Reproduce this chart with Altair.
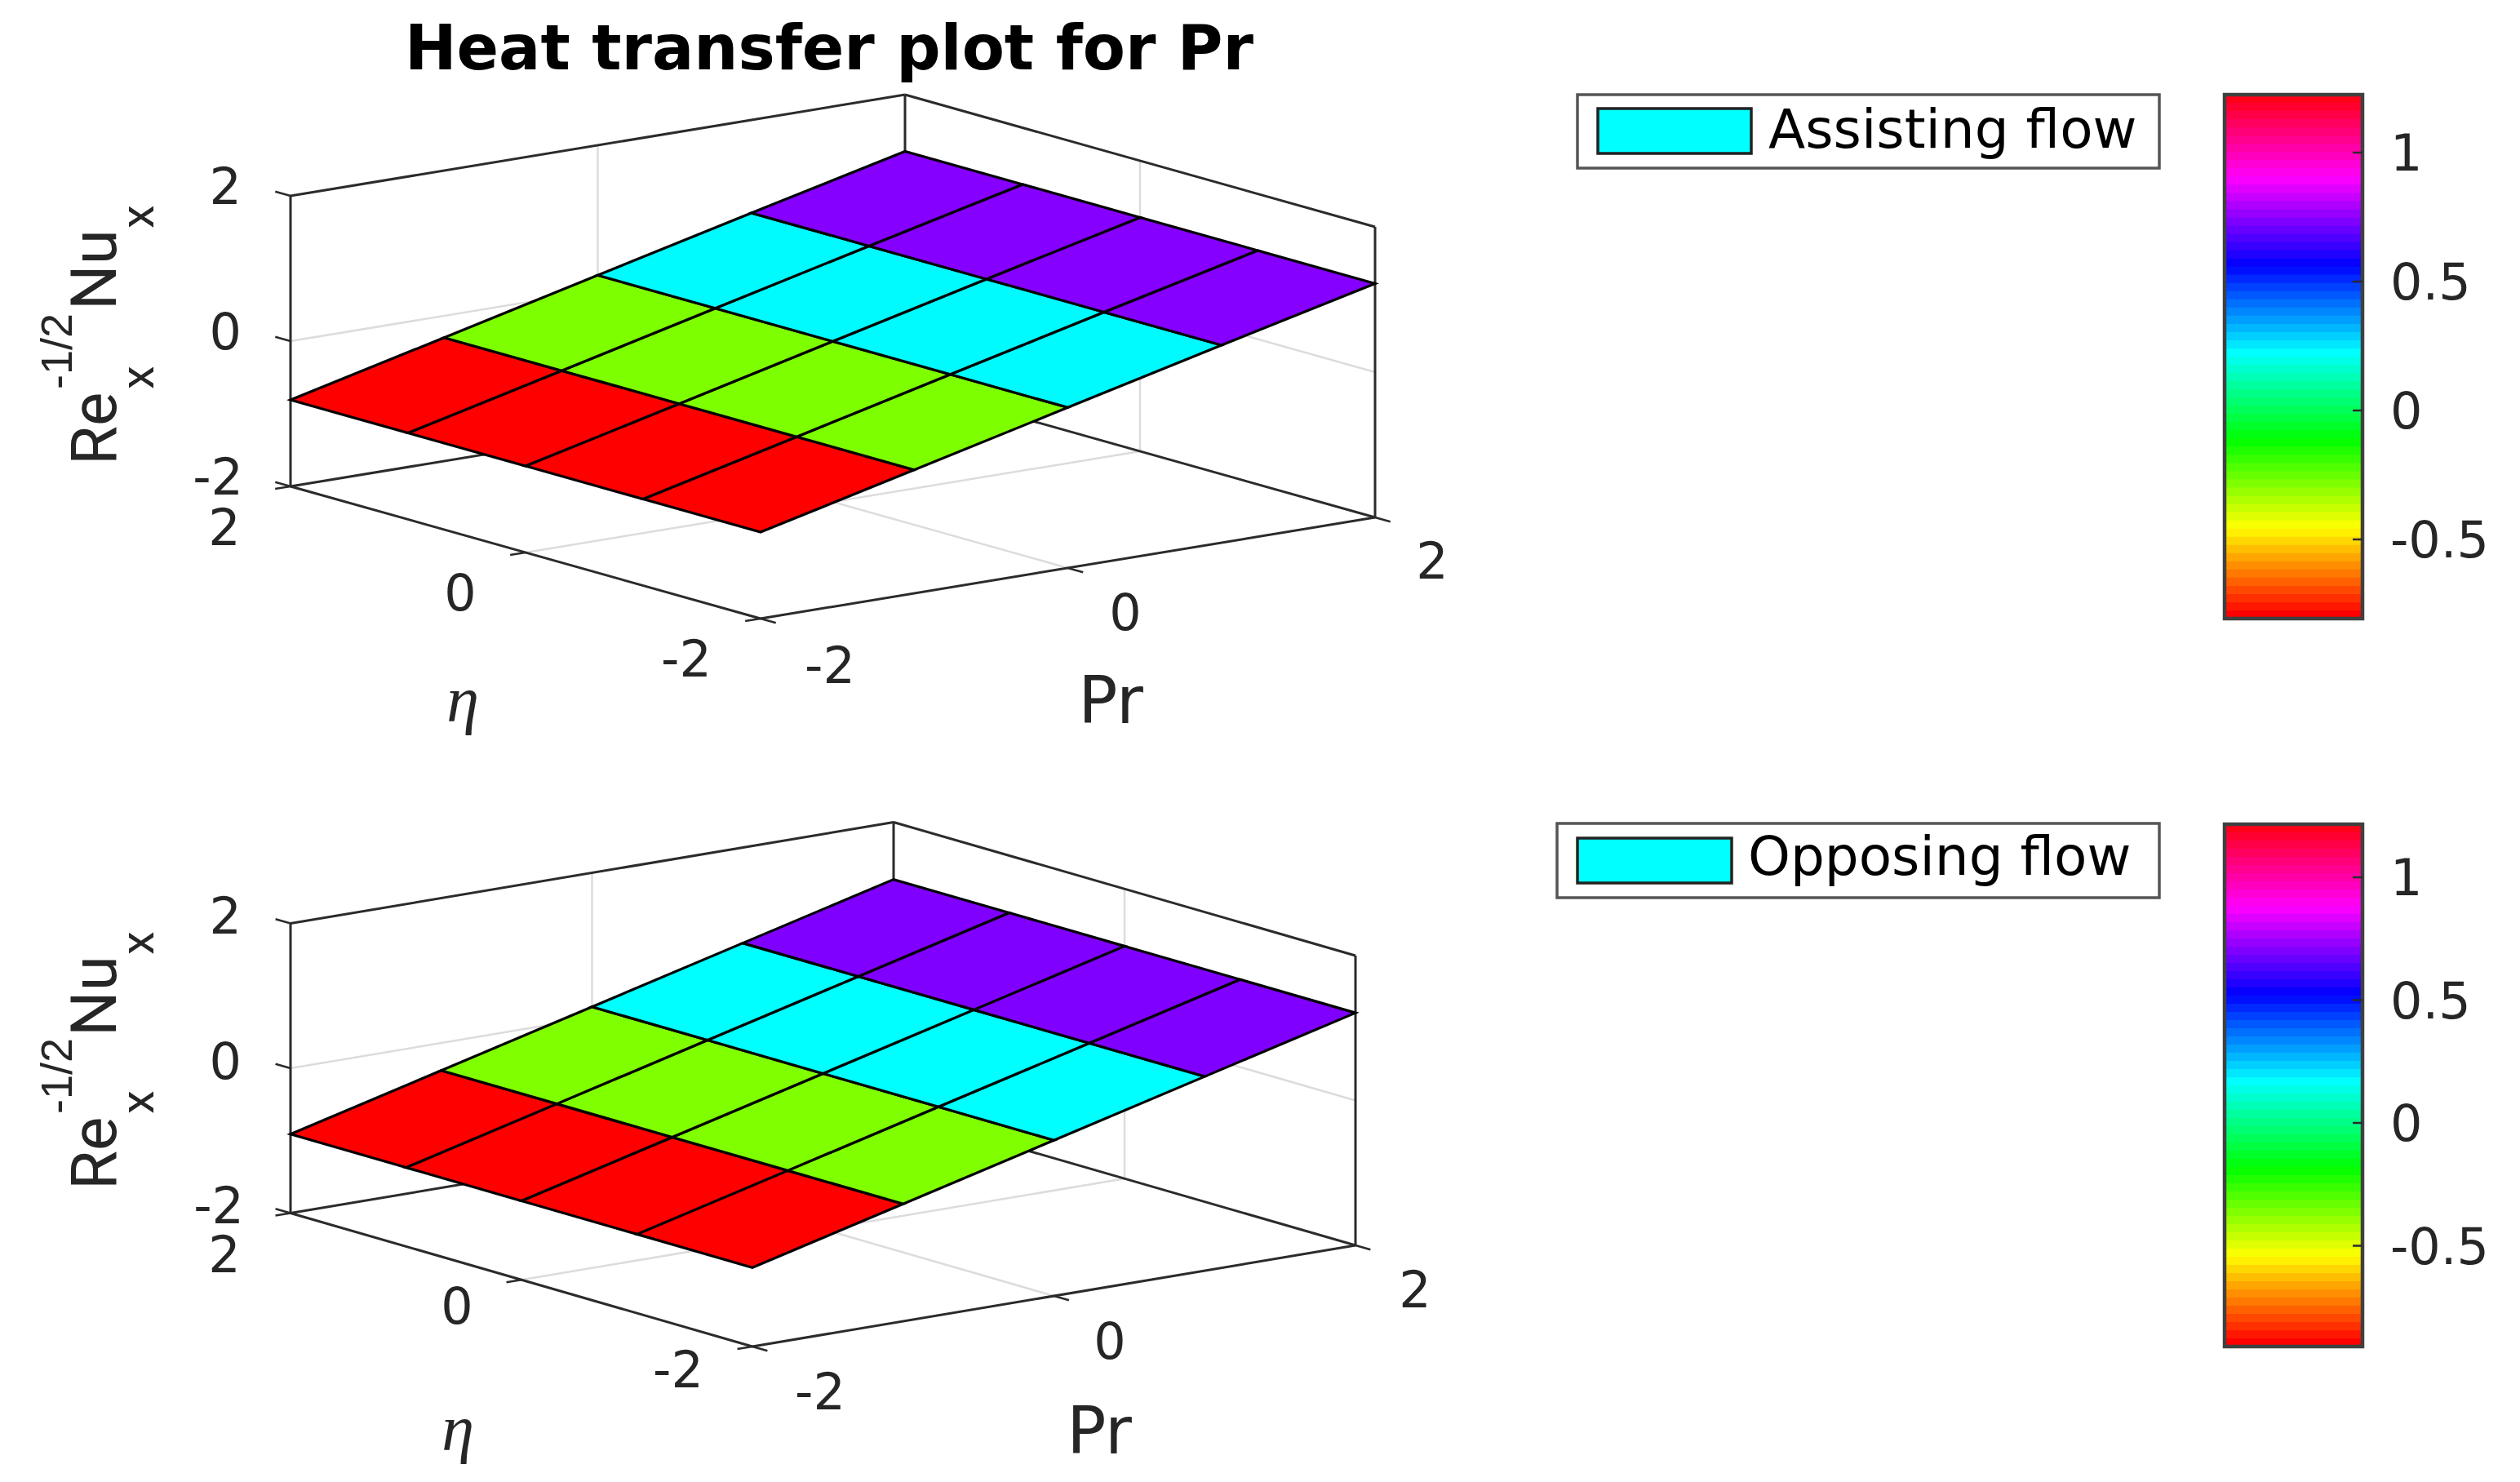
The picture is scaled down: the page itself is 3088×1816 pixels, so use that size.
import colorsys
import altair as alt
import pandas as pd

# ---- data ----
PR_LEVELS = [-2, -1, 0, 1, 2]
ETA_LEVELS = [-2, -1, 0, 1, 2]
ASSISTING_Z = [-0.81, -0.30, 0.21, 0.72, 1.22]   # surface height for each Pr level
OPPOSING_Z = [-0.91, -0.38, 0.15, 0.68, 1.21]
AXIS_TICKS = [-2, 0, 2]
CBAR_TICKS = [-0.5, 0, 0.5, 1]
CBAR_LABELS = ["-0.5", "0", "0.5", "1"]
N_COLORS = 64

# view geometry of each 3-D box: screen point of (Pr=-2, eta=-2, z=-2) and
# screen extent of a 4-unit run along each data axis
VIEW_A = dict(o=(932, 758), pr=(753, -124), eta=(-576, -162), z=(0, -356))
VIEW_B = dict(o=(922, 1650), pr=(739, -124), eta=(-566, -163.5), z=(0, -355))
CBAR_A = dict(x0=2726, x1=2895, top=116, bottom=758, y1=187, y0=503)
CBAR_B = dict(x0=2726, x1=2895, top=1010, bottom=1650, y1=1075, y0=1376)

DARK = "#2b2b2b"
GRID = "#dcdcdc"
SANS = "DejaVu Sans"
LIB = "Liberation Sans"
ROB = "Roboto"

LABELS = [
    # text, x, baseline y, size, align, font, weight, style, angle
    ("Heat transfer plot for Pr", 1016, 85, 76, "center", SANS, "bold", "normal", 0),
    # upper panel
    ("2", 296, 250, 62, "right", SANS, "normal", "normal", 0),
    ("0", 296, 428, 62, "right", SANS, "normal", "normal", 0),
    ("-2", 298, 606, 62, "right", SANS, "normal", "normal", 0),
    ("2", 275, 668, 62, "center", SANS, "normal", "normal", 0),
    ("0", 564, 748, 62, "center", SANS, "normal", "normal", 0),
    ("-2", 841, 829, 62, "center", SANS, "normal", "normal", 0),
    ("-2", 1017, 837, 62, "center", SANS, "normal", "normal", 0),
    ("0", 1379, 772, 62, "center", SANS, "normal", "normal", 0),
    ("2", 1755, 709, 62, "center", SANS, "normal", "normal", 0),
    ("Pr", 1361, 886, 80, "center", SANS, "normal", "normal", 0),
    ("\u03b7", 567, 884, 80, "center", "Liberation Serif", "normal", "italic", 0),
    ("Re", 142, 570, 78, "left", ROB, "normal", "normal", 270),
    ("x", 188, 477, 58, "left", ROB, "normal", "normal", 270),
    ("-1/2", 88, 477, 54, "left", LIB, "normal", "normal", 270),
    ("Nu", 142, 380, 78, "left", ROB, "normal", "normal", 270),
    ("x", 188, 280, 58, "left", ROB, "normal", "normal", 270),
    ("Assisting flow", 2167, 181, 66, "left", SANS, "normal", "normal", 0),
    # lower panel
    ("2", 296, 1144, 62, "right", SANS, "normal", "normal", 0),
    ("0", 296, 1322, 62, "right", SANS, "normal", "normal", 0),
    ("-2", 299, 1499, 62, "right", SANS, "normal", "normal", 0),
    ("2", 275, 1559, 62, "center", SANS, "normal", "normal", 0),
    ("0", 560, 1622, 62, "center", SANS, "normal", "normal", 0),
    ("-2", 831, 1700, 62, "center", SANS, "normal", "normal", 0),
    ("-2", 1005, 1727, 62, "center", SANS, "normal", "normal", 0),
    ("0", 1360, 1665, 62, "center", SANS, "normal", "normal", 0),
    ("2", 1734, 1602, 62, "center", SANS, "normal", "normal", 0),
    ("Pr", 1347, 1781, 80, "center", SANS, "normal", "normal", 0),
    ("\u03b7", 561, 1777, 80, "center", "Liberation Serif", "normal", "italic", 0),
    ("Re", 142, 1458, 78, "left", ROB, "normal", "normal", 270),
    ("x", 188, 1365, 58, "left", ROB, "normal", "normal", 270),
    ("-1/2", 88, 1365, 54, "left", LIB, "normal", "normal", 270),
    ("Nu", 142, 1270, 78, "left", ROB, "normal", "normal", 270),
    ("x", 188, 1170, 58, "left", ROB, "normal", "normal", 270),
    ("Opposing flow", 2142, 1072, 66, "left", SANS, "normal", "normal", 0),
]

LEGEND_BOXES = [
    dict(x=1933, x2=2646, y=116, y2=206, fill="#ffffff", stroke="#555555", w=3.5),
    dict(x=1958, x2=2146, y=133, y2=188, fill="#00ffff", stroke="#222222", w=3.5),
    dict(x=1908, x2=2646, y=1009, y2=1100, fill="#ffffff", stroke="#555555", w=3.5),
    dict(x=1933, x2=2122, y=1027, y2=1082, fill="#00ffff", stroke="#222222", w=3.5),
]


def project(view, pr, eta, z):
    ox, oy = view["o"]
    a, b, c = (pr + 2) / 4, (eta + 2) / 4, (z + 2) / 4
    return (
        ox + a * view["pr"][0] + b * view["eta"][0] + c * view["z"][0],
        oy + a * view["pr"][1] + b * view["eta"][1] + c * view["z"][1],
    )


def seg(view, p, q):
    (x, y), (x2, y2) = project(view, *p), project(view, *q)
    return dict(x=x, y=y, x2=x2, y2=y2)


def hsv_hex(frac):
    r, g, b = colorsys.hsv_to_rgb(frac % 1.0, 1, 1)
    return "#%02x%02x%02x" % (round(r * 255), round(g * 255), round(b * 255))


dark_lines, grid_lines, ticks, features = [], [], [], []

for view, heights in ((VIEW_A, ASSISTING_Z), (VIEW_B, OPPOSING_Z)):
    lo, hi = AXIS_TICKS[0], AXIS_TICKS[-1]
    mid = AXIS_TICKS[1]
    # walls and floor grid
    grid_lines += [
        seg(view, (mid, hi, lo), (mid, hi, hi)),
        seg(view, (lo, hi, mid), (hi, hi, mid)),
        seg(view, (hi, mid, lo), (hi, mid, hi)),
        seg(view, (hi, lo, mid), (hi, hi, mid)),
        seg(view, (mid, lo, lo), (mid, hi, lo)),
        seg(view, (lo, mid, lo), (hi, mid, lo)),
    ]
    # box edges
    dark_lines += [
        seg(view, (lo, hi, lo), (lo, hi, hi)),
        seg(view, (lo, hi, hi), (hi, hi, hi)),
        seg(view, (hi, hi, hi), (hi, lo, hi)),
        seg(view, (hi, lo, hi), (hi, lo, lo)),
        seg(view, (hi, hi, lo), (hi, hi, hi)),
        seg(view, (lo, hi, lo), (lo, lo, lo)),
        seg(view, (lo, lo, lo), (hi, lo, lo)),
        seg(view, (lo, hi, lo), (hi, hi, lo)),
        seg(view, (hi, hi, lo), (hi, lo, lo)),
    ]
    # tick marks
    for t in AXIS_TICKS:
        ticks.append(seg(view, (lo, hi, t), (lo, hi + 0.13, t)))
        ticks.append(seg(view, (lo, t, lo), (lo - 0.1, t, lo)))
        ticks.append(seg(view, (t, lo, lo), (t, lo - 0.13, lo)))
    # surface cells, flat-coloured from their lower Pr corner
    zmin, zmax = min(heights), max(heights)
    for i in range(len(PR_LEVELS) - 1):
        for j in range(len(ETA_LEVELS) - 1):
            p0, p1 = PR_LEVELS[i], PR_LEVELS[i + 1]
            e0, e1 = ETA_LEVELS[j], ETA_LEVELS[j + 1]
            z0, z1 = heights[i], heights[i + 1]
            ring = [
                project(view, p0, e0, z0),
                project(view, p1, e0, z1),
                project(view, p1, e1, z1),
                project(view, p0, e1, z0),
                project(view, p0, e0, z0),
            ]
            features.append({
                "type": "Feature",
                "properties": {"c": hsv_hex((z0 - zmin) / (zmax - zmin))},
                "geometry": {"type": "Polygon", "coordinates": [[list(pt) for pt in ring]]},
            })

bands, frames, cbar_ticks = [], [], []
cbar_text = []
for bar in (CBAR_A, CBAR_B):
    h = (bar["bottom"] - bar["top"]) / N_COLORS
    for k in range(N_COLORS):
        top_edge = bar["bottom"] - (k + 1) * h
        bands.append(dict(
            x=bar["x0"], x2=bar["x1"],
            y=bar["bottom"] - k * h, y2=max(top_edge - 1.5, bar["top"]),
            c=hsv_hex(k / N_COLORS), k=k,
        ))
    frames.append(dict(x=bar["x0"], x2=bar["x1"], y=bar["top"], y2=bar["bottom"]))
    unit = bar["y0"] - bar["y1"]
    for v, lab in zip(CBAR_TICKS, CBAR_LABELS):
        yy = bar["y0"] - v * unit
        cbar_ticks.append(dict(x=bar["x1"] - 12, x2=bar["x1"], y=yy, y2=yy))
        cbar_text.append((lab, 2929, yy + 22, 62, "left", SANS, "normal", "normal", 0))

X = alt.X("x:Q", axis=None, scale=alt.Scale(domain=[8, 3080], nice=False, zero=False))
Y = alt.Y("y:Q", axis=None, scale=alt.Scale(domain=[1808, 8], nice=False, zero=False))


def rules(rows, color, width):
    return alt.Chart(pd.DataFrame(rows)).mark_rule(color=color, strokeWidth=width).encode(
        x=X, y=Y, x2="x2:Q", y2="y2:Q"
    )


layers = [
    rules(grid_lines, GRID, 2.5),
    rules(dark_lines, DARK, 3),
    rules(ticks, DARK, 2.5),
]

surface = (
    alt.Chart(alt.Data(values=features))
    .mark_geoshape(stroke="#000000", strokeWidth=3.2)
    .encode(fill=alt.Fill("properties.c:N", scale=None))
    .project(type="identity", scale=1, translate=[-8, -8])
)
layers.append(surface)

layers.append(
    alt.Chart(pd.DataFrame(bands)).mark_rect().encode(
        x=X, y=Y, x2="x2:Q", y2="y2:Q", fill=alt.Fill("c:N", scale=None),
        order=alt.Order("k:Q"),
    )
)
layers.append(
    alt.Chart(pd.DataFrame(frames)).mark_rect(fillOpacity=0, stroke="#404040", strokeWidth=4.5).encode(
        x=X, y=Y, x2="x2:Q", y2="y2:Q"
    )
)
layers.append(rules(cbar_ticks, DARK, 2.5))

for box in LEGEND_BOXES:
    layers.append(
        alt.Chart(pd.DataFrame([box]))
        .mark_rect(fill=box["fill"], stroke=box["stroke"], strokeWidth=box["w"])
        .encode(x=X, y=Y, x2="x2:Q", y2="y2:Q")
    )

all_text = LABELS + cbar_text
groups = {}
for row in all_text:
    groups.setdefault(row[3:], []).append(dict(t=row[0], x=row[1], y=row[2]))
for (size, align, font, weight, style, angle), rows in groups.items():
    color = "#000000" if weight == "bold" or size == 66 else "#262626"
    layers.append(
        alt.Chart(pd.DataFrame(rows))
        .mark_text(
            fontSize=size, align=align, baseline="alphabetic", font=font,
            fontWeight=weight, fontStyle=style, angle=angle, color=color,
        )
        .encode(x=X, y=Y, text="t:N")
    )

chart = (
    alt.layer(*layers)
    .properties(width=3072, height=1800, padding=0, autosize=alt.AutoSizeParams(type="none"))
    .configure_view(stroke=None)
)
chart.save("out.html", embed_options={"renderer": "svg", "actions": False})
